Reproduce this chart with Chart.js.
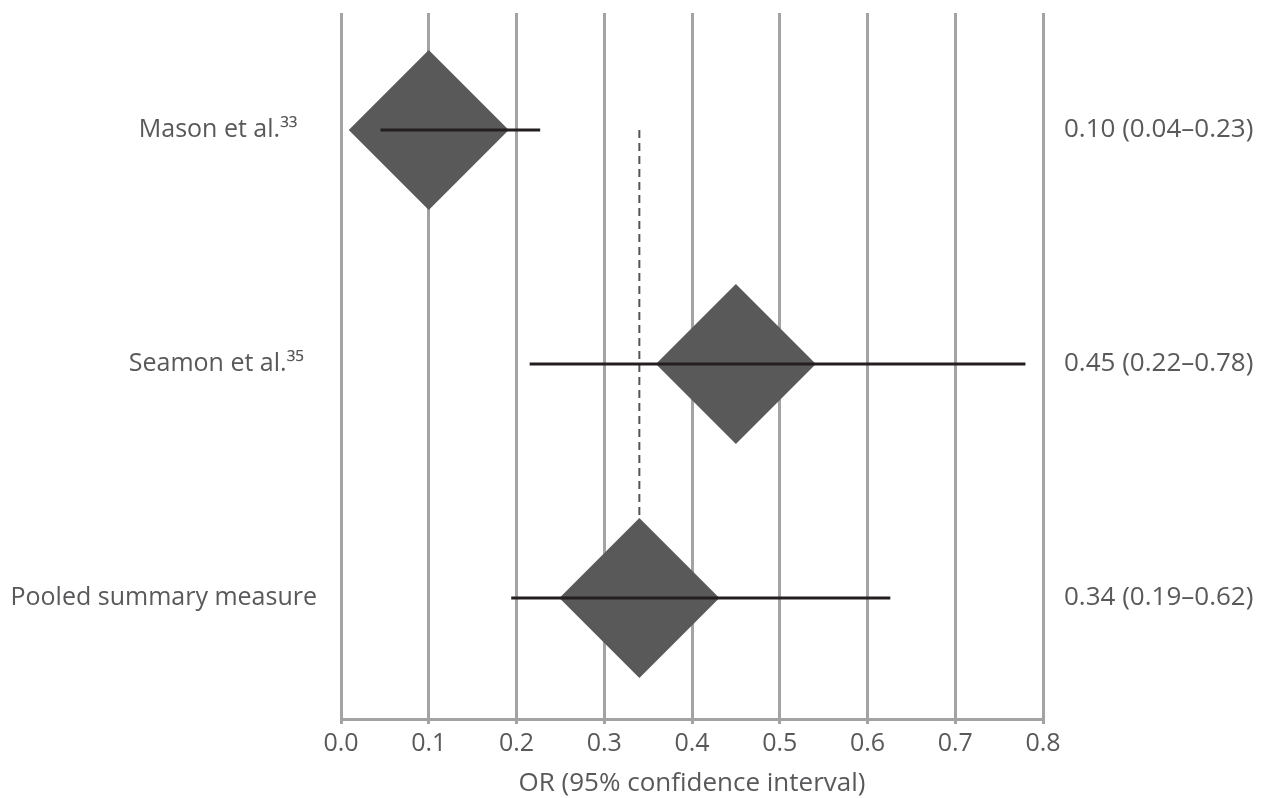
<!DOCTYPE html>
<html>
<head>
<meta charset="utf-8">
<script src="https://cdn.jsdelivr.net/npm/chart.js@4/dist/chart.umd.min.js"></script>
<style>
  html, body { margin: 0; padding: 0; background: #fff; }
  #wrap { width: 1269px; height: 798px; }
</style>
</head>
<body>
<div id="wrap"><canvas id="forest"></canvas></div>
<script>
// datos (los espacios finales imitan la alineacion original)
const estudios = ['Mason et al.³³   ', 'Seamon et al.³⁵  ', 'Pooled summary measure'];
const filas = [3, 2, 1];
const valoresOR = [0.10, 0.45, 0.34];
const icInf = [0.045, 0.215, 0.194];
const icSup = [0.227, 0.78, 0.626];
const textoOR = ['0.10 (0.04–0.23)', '0.45 (0.22–0.78)', '0.34 (0.19–0.62)'];
const ticksX = [0, 0.1, 0.2, 0.3, 0.4, 0.5, 0.6, 0.7, 0.8];
const tituloX = 'OR (95% confidence interval)';

const gris = '#a3a3a3';
const texto = '#58595b';
const fuente = "'Open Sans', sans-serif";

Chart.defaults.font.family = fuente;
Chart.defaults.color = texto;

// una linea por intervalo de confianza
const lineasIC = filas.map((f, i) => ({
    type: 'line',
    data: [{ x: icInf[i], y: f }, { x: icSup[i], y: f }],
    borderColor: '#231f20',
    borderWidth: 3,
    pointRadius: 0,
    order: 0
}));

const filaPooled = filas[filas.length - 1];
const pooled = valoresOR[valoresOR.length - 1];

// ancho fijo del eje y sin relleno vertical extra
function fijarAncho(ancho) {
    return s => {
        s.width = ancho;
        s.paddingTop = 0;
        s.paddingBottom = 0;
    };
}

new Chart(document.getElementById('forest'), {
    type: 'scatter',
    data: {
        datasets: [
            ...lineasIC,
            {
                type: 'scatter',
                data: filas.map((f, i) => ({ x: valoresOR[i], y: f })),
                pointStyle: 'rectRot',
                pointRadius: 80,
                pointHoverRadius: 80,
                backgroundColor: '#595959',
                borderWidth: 0,
                order: 1
            },
            {
                type: 'line',
                data: [{ x: pooled, y: filas[0] }, { x: pooled, y: filaPooled }],
                borderColor: '#555555',
                borderWidth: 2,
                borderDash: [8, 5],
                pointRadius: 0,
                order: 2
            }
        ]
    },
    options: {
        responsive: true,
        maintainAspectRatio: false,
        animation: false,
        layout: { autoPadding: false, padding: { top: 13, left: 0, right: 0, bottom: 0 } },
        plugins: {
            legend: { display: false },
            tooltip: { enabled: false }
        },
        scales: {
            x: {
                type: 'linear',
                min: 0,
                max: 0.8,
                afterBuildTicks: s => { s.ticks = ticksX.map(v => ({ value: v })); },
                afterFit: s => { s.height = 79; },
                grid: { color: gris, lineWidth: 3, tickLength: 5 },
                border: { display: true, color: gris, width: 3 },
                ticks: {
                    padding: 5,
                    font: { size: 25 },
                    color: texto,
                    callback: v => v.toFixed(1)
                },
                title: {
                    display: true,
                    text: tituloX,
                    font: { size: 26, lineHeight: 1 },
                    color: texto,
                    padding: { top: 0, bottom: 1 }
                }
            },
            y: {
                type: 'linear',
                position: 'left',
                min: 0.483,
                max: 3.5,
                afterBuildTicks: s => { s.ticks = filas.map(v => ({ value: v })); },
                afterFit: fijarAncho(341),
                grid: { display: false, drawTicks: false },
                border: { display: false },
                ticks: {
                    padding: 24,
                    font: { size: 25 },
                    color: texto,
                    callback: v => estudios[filas.indexOf(v)]
                }
            },
            y2: {
                type: 'linear',
                position: 'right',
                min: 0.483,
                max: 3.5,
                afterBuildTicks: s => { s.ticks = filas.map(v => ({ value: v })); },
                afterFit: fijarAncho(226),
                grid: { display: false, drawTicks: false },
                border: { display: false },
                ticks: {
                    padding: 21,
                    font: { size: 26 },
                    color: texto,
                    callback: v => textoOR[filas.indexOf(v)]
                }
            }
        }
    }
});
</script>
</body>
</html>
